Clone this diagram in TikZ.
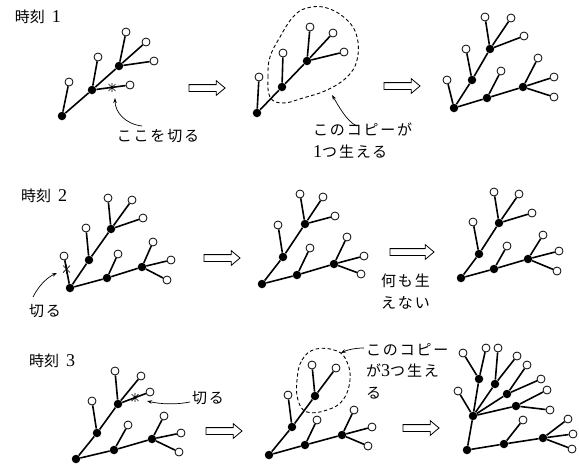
\documentclass[tikz,border=0pt]{standalone}
\usepackage{fontspec}
\setmainfont{Liberation Serif}
\newfontfamily\jp{Noto Sans CJK JP}
\newfontfamily\jpl[LetterSpace=12]{Noto Sans CJK JP}
\usetikzlibrary{arrows.meta,shapes.arrows}

\tikzset{
  fnode/.style={circle,fill=black,inner sep=0pt,minimum size=8.5pt},
  onode/.style={circle,draw,fill=white,inner sep=0pt,minimum size=8pt,line width=0.8pt},
  edge/.style={line width=1.6pt},
  hollow/.style={single arrow,draw,line width=0.8pt,minimum height=36pt,inner sep=3pt,
    single arrow head extend=4pt,single arrow tip angle=80},
  jlabel/.style={inner sep=0pt,font=\fontsize{15}{21.5}\selectfont\jpl,align=left},
  title/.style={inner sep=0pt,font=\fontsize{15}{18}\selectfont},
  callout/.style={-{Stealth[length=5pt,width=3.5pt]},line width=0.7pt},
  copyline/.style={dash pattern=on 3.5pt off 2.5pt,line width=0.9pt}
}
\newcommand\dg[1]{{\fontsize{18}{18}\selectfont\rmfamily #1}}
\newcommand\cutmark[1]{\draw[line width=0.7pt] (#1) +(-3.5,-3.5) -- +(3.5,3.5)
  (#1) +(-3.5,3.5) -- +(3.5,-3.5) (#1) +(0,-4.5) -- +(0,4.5);}

\begin{document}
\begin{tikzpicture}[x=1pt,y=-1pt]
  \useasboundingbox (0,0) rectangle (579,464);

  \node[title] (t1) at (38,17) {{\jp 時刻}\hspace{7pt}\dg{1}};
  \node[title] (t2) at (44,196) {{\jp 時刻}\hspace{7pt}\dg{2}};
  \node[title] (t3) at (52,361) {{\jp 時刻}\hspace{7pt}\dg{3}};

  % time 1
  \node[fnode] (a1r) at (62,116) {};
  \node[fnode] (a1p) at (92,90) {};
  \node[fnode] (a1q) at (119,66) {};
  \draw[edge] (a1r) -- (a1p) -- (a1q);
  \foreach \n/\p/\x/\y in {a1l1/a1r/69/82, a1l2/a1p/98/57, a1l3/a1p/130/85,
      a1l4/a1q/126/32, a1l5/a1q/146/42, a1l6/a1q/154/61} {
    \node[onode] (\n) at (\x,\y) {};
    \draw[edge] (\p) -- (\n);
  }
  \coordinate (xa) at (112,87.5);
  \cutmark{xa}

  \node[fnode] (b1r) at (257,113) {};
  \node[fnode] (b1p) at (282,87) {};
  \node[fnode] (b1q) at (307,61) {};
  \draw[edge] (b1r) -- (b1p) -- (b1q);
  \foreach \n/\p/\x/\y in {b1l1/b1r/259/77, b1l2/b1p/283/53,
      b1l4/b1q/310/27, b1l5/b1q/333/33, b1l6/b1q/344/52} {
    \node[onode] (\n) at (\x,\y) {};
    \draw[edge] (\p) -- (\n);
  }
  \draw[copyline] plot[smooth cycle,tension=0.7] coordinates {(270,97) (268,77) (270,57)
    (280,37) (293,17) (307,8) (327,8) (347,20) (357,37) (357,60) (347,77) (327,90)
    (303,98) (283,103)};

  \node[fnode] (c1r) at (454,108) {};
  \node[fnode] (c1p) at (472,80) {};
  \node[fnode] (c1q) at (490,49) {};
  \node[fnode] (c1s) at (487,98) {};
  \node[fnode] (c1t) at (523,87) {};
  \draw[edge] (c1r) -- (c1p) -- (c1q);
  \draw[edge] (c1r) -- (c1s) -- (c1t);
  \foreach \n/\p/\x/\y in {c1l1/c1r/447/80, c1l2/c1p/466/49, c1l3/c1q/485/17,
      c1l4/c1q/511/18, c1l5/c1q/524/36, c1l6/c1s/501/71, c1l7/c1t/538/58,
      c1l8/c1t/554/77, c1l9/c1t/554/97} {
    \node[onode] (\n) at (\x,\y) {};
    \draw[edge] (\p) -- (\n);
  }

  \node[hollow] (h1a) at (205,88) {};
  \node[hollow] (h1b) at (400,86) {};

  \node[jlabel] (lab1) at (158,136) {ここを切る};
  \coordinate (lab1s) at (142,126);
  \coordinate (lab1e) at (115,98);
  \draw[callout] (lab1s) .. controls (125,124) and (115,112) .. (lab1e);

  \node[jlabel,anchor=north west] (lab2) at (313,123) {このコピーが\\\dg{1}つ生える};
  \coordinate (lab2s) at (357,126);
  \coordinate (lab2e) at (332,95);
  \draw[callout] (lab2s) .. controls (347,122) and (338,105) .. (lab2e);

  % time 2
  \node[fnode] (a2r) at (70,288) {};
  \node[fnode] (a2p) at (89,260) {};
  \node[fnode] (a2q) at (111,229) {};
  \node[fnode] (a2s) at (107,278) {};
  \node[fnode] (a2t) at (142,267) {};
  \draw[edge] (a2r) -- (a2p) -- (a2q);
  \draw[edge] (a2r) -- (a2s) -- (a2t);
  \foreach \n/\p/\x/\y in {a2l1/a2r/64/256, a2l2/a2p/86/228, a2l3/a2q/108/198,
      a2l4/a2q/132/200, a2l5/a2q/143/218, a2l6/a2s/118/254, a2l7/a2t/153/242,
      a2l8/a2t/171/260, a2l9/a2t/167/280} {
    \node[onode] (\n) at (\x,\y) {};
    \draw[edge] (\p) -- (\n);
  }
  \coordinate (xb) at (66.5,269);
  \cutmark{xb}

  \node[fnode] (b2r) at (262,284) {};
  \node[fnode] (b2p) at (283,257) {};
  \node[fnode] (b2q) at (305,224) {};
  \node[fnode] (b2s) at (297,275) {};
  \node[fnode] (b2t) at (334,264) {};
  \draw[edge] (b2r) -- (b2p) -- (b2q);
  \draw[edge] (b2r) -- (b2s) -- (b2t);
  \foreach \n/\p/\x/\y in {b2l2/b2p/278/225, b2l3/b2q/300/194,
      b2l4/b2q/323/197, b2l5/b2q/335/216, b2l6/b2s/310/248, b2l7/b2t/347/237,
      b2l8/b2t/364/256, b2l9/b2t/361/274} {
    \node[onode] (\n) at (\x,\y) {};
    \draw[edge] (\p) -- (\n);
  }

  \node[fnode] (c2r) at (461,278) {};
  \node[fnode] (c2p) at (479,254) {};
  \node[fnode] (c2q) at (499,223) {};
  \node[fnode] (c2s) at (494,269) {};
  \node[fnode] (c2t) at (528,259) {};
  \draw[edge] (c2r) -- (c2p) -- (c2q);
  \draw[edge] (c2r) -- (c2s) -- (c2t);
  \foreach \n/\p/\x/\y in {c2l2/c2p/473/222, c2l3/c2q/494/192,
      c2l4/c2q/519/194, c2l5/c2q/532/213, c2l6/c2s/507/246, c2l7/c2t/543/235,
      c2l8/c2t/559/251, c2l9/c2t/557/271} {
    \node[onode] (\n) at (\x,\y) {};
    \draw[edge] (\p) -- (\n);
  }

  \node[hollow] (h2a) at (220,258) {};
  \node[hollow,minimum height=44pt] (h2b) at (410,252) {};

  \node[jlabel] (lab3) at (45,311) {切る};
  \coordinate (lab3s) at (33,297);
  \coordinate (lab3e) at (57,273);
  \draw[callout] (lab3s) .. controls (38,287) and (46,278) .. (lab3e);

  \node[jlabel,anchor=north west] (lab4) at (381,274) {何も生\\えない};

  % time 3
  \node[fnode] (a3r) at (76,459) {};
  \node[fnode] (a3p) at (97,433) {};
  \node[fnode] (a3q) at (118,404) {};
  \node[fnode] (a3s) at (114,450) {};
  \node[fnode] (a3t) at (152,439) {};
  \draw[edge] (a3r) -- (a3p) -- (a3q);
  \draw[edge] (a3r) -- (a3s) -- (a3t);
  \foreach \n/\p/\x/\y in {a3l2/a3p/92/401, a3l3/a3q/115/371,
      a3l4/a3q/141/376, a3l5/a3q/150/392, a3l6/a3s/128/425, a3l7/a3t/164/416,
      a3l8/a3t/181/433, a3l9/a3t/179/452} {
    \node[onode] (\n) at (\x,\y) {};
    \draw[edge] (\p) -- (\n);
  }
  \coordinate (xc) at (135,397.5);
  \cutmark{xc}

  \node[fnode] (b3r) at (269,455) {};
  \node[fnode] (b3p) at (292,427) {};
  \node[fnode] (b3q) at (315,396) {};
  \node[fnode] (b3s) at (305,445) {};
  \node[fnode] (b3t) at (342,435) {};
  \draw[edge] (b3r) -- (b3p) -- (b3q);
  \draw[edge] (b3r) -- (b3s) -- (b3t);
  \foreach \n/\p/\x/\y in {b3l2/b3p/288/395, b3l3/b3q/312/365,
      b3l4/b3q/336/368, b3l6/b3s/317/420, b3l7/b3t/354/410,
      b3l8/b3t/372/427, b3l9/b3t/368/446} {
    \node[onode] (\n) at (\x,\y) {};
    \draw[edge] (\p) -- (\n);
  }
  \draw[copyline] plot[smooth cycle,tension=0.7] coordinates {(297,380) (302,360)
    (316,349) (337,351) (347,362) (350,380) (343,400) (327,410) (307,412) (298,400)};

  \node[fnode] (c3r) at (467,450) {};
  \node[fnode] (c3m) at (473,416) {};
  \node[fnode] (c3n1) at (479,379) {};
  \node[fnode] (c3n2) at (495,384) {};
  \node[fnode] (c3n3) at (507,394) {};
  \node[fnode] (c3n4) at (516,406) {};
  \node[fnode] (c3s) at (504,444) {};
  \node[fnode] (c3t) at (543,438) {};
  \draw[edge] (c3r) -- (c3m);
  \draw[edge] (c3r) -- (c3s) -- (c3t);
  \foreach \k in {1,...,4} {
    \draw[edge] (c3m) -- (c3n\k);
  }
  \foreach \n/\p/\x/\y in {c3l1/c3m/458/391, c3l2/c3n1/463/353, c3l3/c3n1/486/348,
      c3l4/c3n2/498/348, c3l5/c3n2/517/356, c3l6/c3n3/527/365, c3l7/c3n3/541/379,
      c3l8/c3n4/547/390, c3l9/c3n4/550/410, c3l10/c3s/523/420, c3l11/c3t/568/419,
      c3l12/c3t/573/434, c3l13/c3t/572/449} {
    \node[onode] (\n) at (\x,\y) {};
    \draw[edge] (\p) -- (\n);
  }

  \node[hollow] (h3a) at (222,431) {};
  \node[hollow] (h3b) at (419,428) {};

  \node[jlabel] (lab5) at (208,398) {切る};
  \coordinate (lab5s) at (190,402);
  \coordinate (lab5e) at (147,401);
  \draw[callout] (lab5s) .. controls (175,405) and (160,404) .. (lab5e);

  \node[jlabel,anchor=north west] (lab6) at (366,343) {このコピー\\が\dg{3}つ生え\\る};
  \coordinate (lab6s) at (364,348);
  \coordinate (lab6e) at (341,353);
  \draw[callout] (lab6s) .. controls (355,348) and (347,350) .. (lab6e);
\end{tikzpicture}
\end{document}
